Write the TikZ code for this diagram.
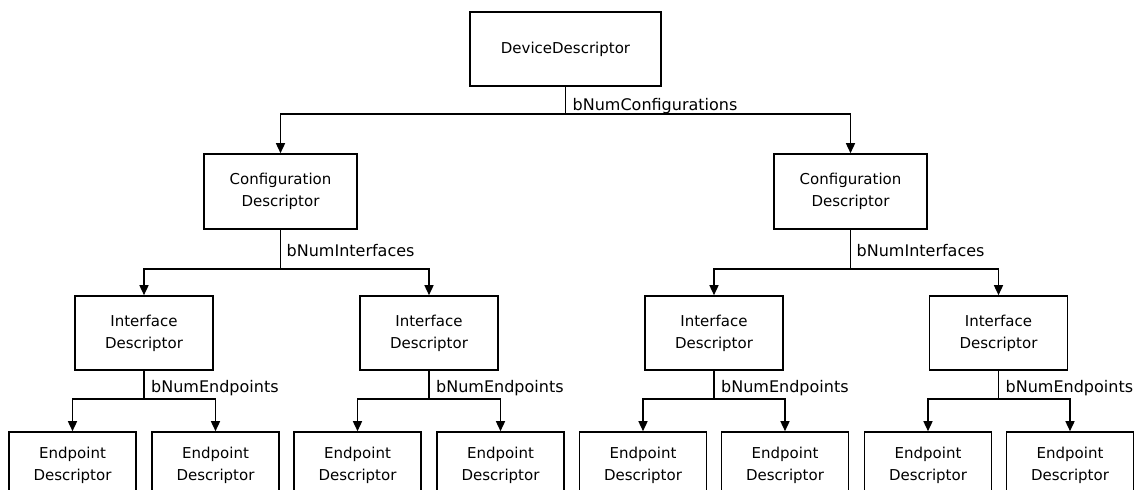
\documentclass[tikz,border=0pt]{standalone}
\usepackage{fontspec}
\setmainfont{DejaVu Sans}
\usetikzlibrary{arrows.meta, positioning, calc}
\tikzset{
	descbox/.style={rectangle, draw=black, line width=1.6pt, align=center, text centered, inner sep=0pt, font=\fontsize{15}{22}\selectfont},
	link/.style={line width=1.5pt, -{Triangle[width=9pt, length=10pt]}},
	countlabel/.style={anchor=base west, inner sep=0pt, font=\fontsize{16}{18}\selectfont},
}

\begin{document}
\begin{tikzpicture}[x=1pt, y=-1pt]
	\useasboundingbox (0,0) rectangle (1144,490);
	\clip (0,0) rectangle (1144,490);
	% device
	\node[descbox, minimum width=191pt, minimum height=74pt] (dev) at (565.5,49) {DeviceDescriptor};
	\coordinate (dev-bar) at ($(dev.south)+(0,27)$);
	\node[countlabel] (devlbl) at ($(dev-bar)+(7,-3)$) {bNumConfigurations};
	% configurations
	\foreach \name/\cx in {cfgA/280.5, cfgB/850.5} {
		\node[descbox, minimum width=153pt, minimum height=75pt] (\name) at (\cx,191.5) {Configuration\\Descriptor};
		\draw[link] (dev.south) -- (dev-bar) -| (\name.north);
		\coordinate (\name-bar) at ($(\name.south)+(0,39)$);
		\node[countlabel] (\name-lbl) at ($(\name-bar)+(6,-12)$) {bNumInterfaces};
	}
	% interfaces
	\foreach \name/\cx/\up in {ifcA/144/cfgA, ifcB/429/cfgA, ifcC/714/cfgB, ifcD/998.5/cfgB} {
		\node[descbox, minimum width=138pt, minimum height=74pt] (\name) at (\cx,333) {Interface\\Descriptor};
		\draw[link] (\up.south) -- (\up-bar) -| (\name.north);
		\coordinate (\name-bar) at ($(\name.south)+(0,28)$);
		\node[countlabel] (\name-lbl) at ($(\name-bar)+(7,-6)$) {bNumEndpoints};
	}
	% endpoints
	\foreach \i/\cx/\up in {1/72.5/ifcA, 2/215.5/ifcA, 3/357.5/ifcB, 4/500.5/ifcB, 5/643/ifcC, 6/785/ifcC, 7/928/ifcD, 8/1070/ifcD} {
		\node[descbox, minimum width=127pt, minimum height=66pt] (ep\i) at (\cx,465) {Endpoint\\Descriptor};
		\draw[link] (\up.south) -- (\up-bar) -| (ep\i.north);
	}
\end{tikzpicture}
\end{document}
